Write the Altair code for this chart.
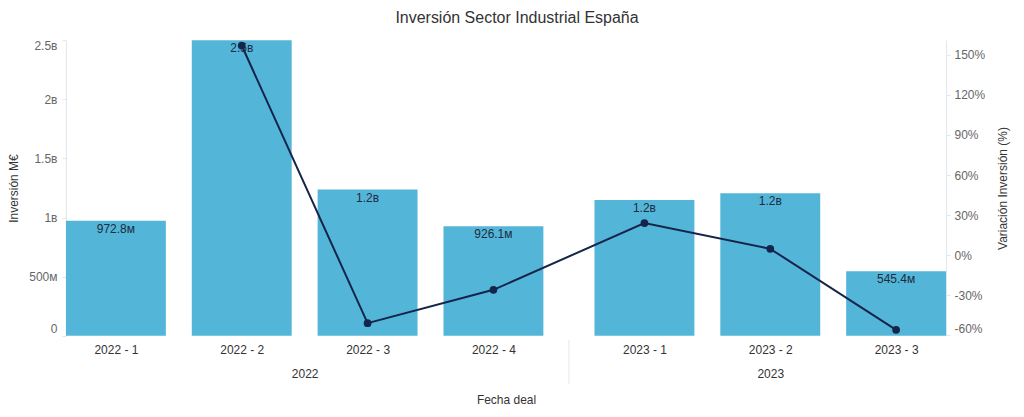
import altair as alt
import pandas as pd

quarters = ["2022 - 1", "2022 - 2", "2022 - 3", "2022 - 4", "2023 - 1", "2023 - 2", "2023 - 3"]
years = ["2022", "2022", "2022", "2022", "2023", "2023", "2023"]
inversion = [972.8e6, 2.50e9, 1.237e9, 926.1e6, 1.149e9, 1.205e9, 545.4e6]
bar_labels = ["972.8ᴍ", "2.5ʙ", "1.2ʙ", "926.1ᴍ", "1.2ʙ", "1.2ʙ", "545.4ᴍ"]
variacion = [None, 157.0, -51.0, -26.0, 24.0, 4.7, -56.0]

year_names = ["2022", "2023"]
left_ticks = [0, 5e8, 1e9, 1.5e9, 2e9, 2.5e9]
right_ticks = [-60, -30, 0, 30, 60, 90, 120, 150]

df = pd.DataFrame({
    "quarter": quarters,
    "year": years,
    "inversion": inversion,
    "label": bar_labels,
    "variacion": variacion,
})

FONT = "Liberation Sans"
BAR_COLOR = "#53b6d9"
LINE_COLOR = "#15244a"
AXIS_LINE = "#dde7f0"

# slot positions: one step per quarter, with an extra 0.2 step gap between years
year_gap = 0.2
half = 0.397
q_pos = [i + (year_gap if y == "2023" else 0) for i, y in enumerate(years)]
year_centers = [sum(p for p, y in zip(q_pos, years) if y == yy) / years.count(yy) for yy in year_names]
sep_pos = (q_pos[3] + q_pos[4]) / 2

x_scale = alt.Scale(domain=[q_pos[0] - half, q_pos[-1] + half], nice=False, zero=False, padding=0)

q_expr = "[" + ",".join("'%s'" % q for q in quarters) + "][indexof([" + ",".join(str(p) for p in q_pos) + "], datum.value)]"
y_expr = "[" + ",".join("'%s'" % y for y in year_names) + "][indexof([" + ",".join(str(p) for p in year_centers) + "], datum.value)]"

q_axis = alt.Axis(values=q_pos, labelExpr=q_expr, title=None, ticks=False, domain=False, grid=False,
                  labelPadding=9, labelFontSize=12, labelColor="#333333", labelFont=FONT, orient="bottom")
yr_axis = alt.Axis(values=year_centers, labelExpr=y_expr, title="Fecha deal", ticks=False, domain=False,
                   grid=False, offset=33, labelPadding=0, labelFontSize=12, labelColor="#333333",
                   labelFont=FONT, titleFont=FONT, titleFontSize=12, titleFontWeight="normal",
                   titleColor="#333333", titlePadding=15, orient="bottom")

base = alt.Chart(df).transform_window(
    idx="row_number()"
).transform_calculate(
    pos=f"datum.idx - 1 + (datum.year == '2023' ? {year_gap} : 0)"
)

left_scale = alt.Scale(domain=[0, 2.5e9], nice=False)
left_axis = alt.Axis(values=left_ticks, title="Inversión M€",
                     labelExpr="datum.value == 0 ? '0' : replace(replace(format(datum.value, '~s'), 'G', 'ʙ'), 'M', 'ᴍ')",
                     grid=False, domainColor=AXIS_LINE, tickColor=AXIS_LINE, tickSize=4, labelPadding=5,
                     labelFlush=True, labelColor="#666666", labelFontSize=12, labelFont=FONT, titleFont=FONT,
                     titleFontSize=12, titleFontWeight="normal", titleColor="#333333", titlePadding=8)

bars = base.mark_bar(width=100, color=BAR_COLOR).encode(
    x=alt.X("pos:Q", scale=x_scale, axis=q_axis),
    y=alt.Y("inversion:Q", scale=left_scale, axis=left_axis),
)
texts = base.mark_text(baseline="top", dy=3, fontSize=12, font=FONT, color="#1f2a3c").encode(
    x=alt.X("pos:Q", scale=x_scale, axis=q_axis),
    y=alt.Y("inversion:Q", scale=left_scale, axis=left_axis),
    text="label:N",
)
sep = alt.Chart(pd.DataFrame({"s": [sep_pos]})).mark_rule(color="#e3e8ee", strokeWidth=1, clip=False).encode(
    x=alt.X("s:Q", scale=x_scale, axis=q_axis),
    y=alt.value(300),
    y2=alt.value(344),
)

right_scale = alt.Scale(domain=[-60.5, 161], nice=False, zero=False)
right_axis = alt.Axis(values=right_ticks, orient="right", title="Variación Inversión (%)",
                      labelExpr="datum.value + '%'", grid=False, domainColor=AXIS_LINE,
                      tickColor=AXIS_LINE, tickSize=4, labelPadding=4, labelFlush=True,
                      labelColor="#666666", labelFontSize=12, labelFont=FONT, titleFont=FONT,
                      titleFontSize=12, titleFontWeight="normal", titleColor="#333333",
                      titlePadding=25, titleAngle=270)

line = base.mark_line(color=LINE_COLOR, strokeWidth=2).encode(
    x=alt.X("pos:Q", scale=x_scale, axis=yr_axis),
    y=alt.Y("variacion:Q", scale=right_scale, axis=right_axis),
)
points = base.mark_point(filled=True, size=60, color=LINE_COLOR, opacity=1).encode(
    x=alt.X("pos:Q", scale=x_scale, axis=yr_axis),
    y=alt.Y("variacion:Q", scale=right_scale, axis=right_axis),
)

left_group = alt.layer(bars, texts, sep)
right_group = alt.layer(line, points)

chart = alt.layer(left_group, right_group).resolve_scale(
    y="independent"
).resolve_axis(
    x="independent"
).properties(
    width=881,
    height=296,
    autosize=alt.AutoSizeParams(type="none"),
    padding={"left": 58, "top": 32, "right": 70, "bottom": 75},
    title=alt.TitleParams("Inversión Sector Industrial España", fontSize=16, font=FONT,
                          fontWeight="normal", color="#333333", anchor="middle", dx=11, offset=13),
).configure_view(stroke=None)

chart.save("out.html", embed_options={"renderer": "svg", "actions": False})
